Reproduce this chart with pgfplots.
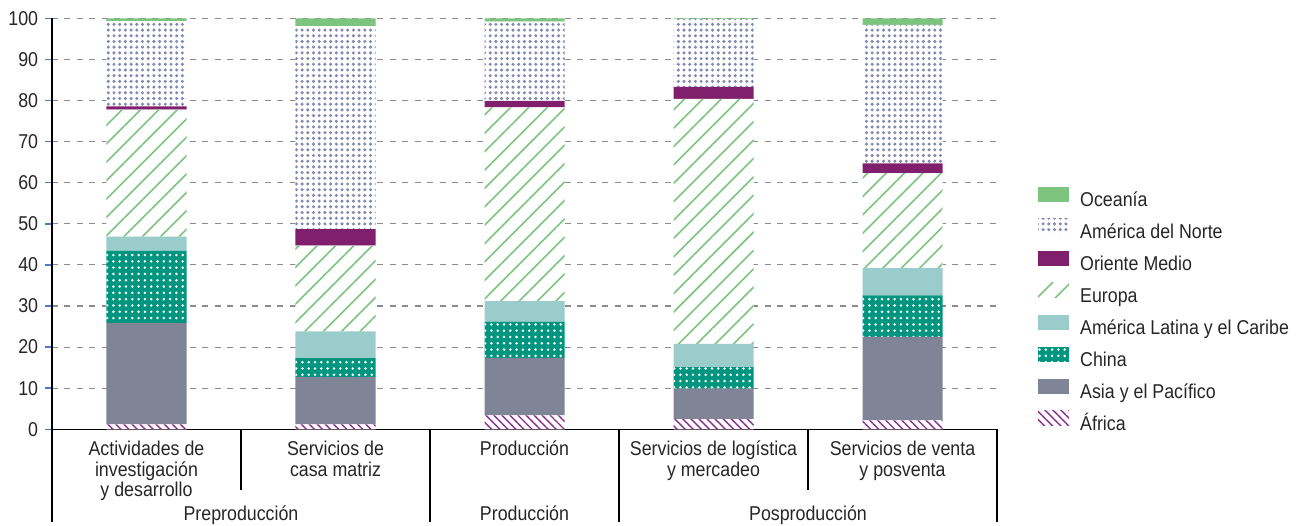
\documentclass[border=0pt]{standalone}
\usepackage{fontspec}
\setmainfont{Liberation Sans}[FakeStretch=0.89]
\usepackage{pgfplots}
\pgfplotsset{compat=1.18}
\usepackage{pgfplotstable}
\usetikzlibrary{patterns.meta}
\definecolor{oce}{HTML}{7DC47F}
\definecolor{nam}{HTML}{8189B0}
\definecolor{mid}{HTML}{80206C}
\definecolor{eur}{HTML}{7DC47F}
\definecolor{lat}{HTML}{99CCCB}
\definecolor{chi}{HTML}{00957F}
\definecolor{asi}{HTML}{7F8497}
\definecolor{afr}{HTML}{8B2A8F}
\definecolor{txt}{HTML}{262626}
\definecolor{grd}{HTML}{8C8C8C}
\definecolor{tck}{HTML}{4A7BC8}

\pgfplotstableread{
x Afr Asi Chi Lat Eur Mid Nam Oce
0 1.2 24.7 17.5 3.5 30.9 0.8 20.7 0.7
1 1.2 11.5 4.6 6.5 20.9 4.0 49.4 1.9
2 3.4 14.0 8.8 5.0 47.1 1.6 19.3 0.8
3 2.5 7.4 5.2 5.7 59.6 2.9 16.5 0.2
4 2.2 20.3 10.1 6.6 23.1 2.4 33.7 1.6
}\datatable

\pgfplotsset{myleg/.style={legend image code/.code={\fill[##1] (0bp,-0.5bp) rectangle (31bp,14.5bp);}}}

\begin{document}%
\fontsize{20bp}{20.5bp}\selectfont%
\begin{tikzpicture}[text=txt]
\useasboundingbox (-52bp,-96.7bp) rectangle (1245bp,429.3bp);
\begin{axis}[
  at={(0,0)}, anchor=south west,
  scale only axis, width=945bp, height=411bp,
  xmin=-0.5, xmax=4.5, ymin=0, ymax=100,
  ybar stacked, bar width=0.4233,
  axis x line*=bottom, axis y line*=left,
  axis line style={-, black, line width=1.3bp},
  xtick=\empty, ytick={0,10,...,100},
  tick align=outside, major tick length=7bp,
  ytick style={tck, line width=1.5bp},
  yticklabel style={/pgf/number format/assume math mode=true, text=txt},
  ymajorgrids, grid style={grd, dash pattern=on 6bp off 6.5bp, line width=1.2bp},
  clip=false,
  reverse legend,
  legend cell align=left,
  legend style={at={(axis description cs:1.0434,0.591)}, anchor=north west, draw=none, fill=none,
    inner sep=0pt, column sep=11bp, row sep=8.5bp,
    nodes={inner sep=0pt, text height=14bp, text depth=4bp, text=txt}},
]
\addplot[myleg, draw=none, fill=white, postaction={pattern={Lines[angle=-45, distance=5.7bp, line width=1.4bp]}, pattern color=afr}] table[x=x, y=Afr] {\datatable};
\addlegendentry{África}
\addplot[myleg, draw=none, fill=asi] table[x=x, y=Asi] {\datatable};
\addlegendentry{Asia y el Pacífico}
\addplot[myleg, draw=none, fill=chi, postaction={pattern={Dots[distance=6.3bp, radius=1.4bp]}, pattern color=white}] table[x=x, y=Chi] {\datatable};
\addlegendentry{China}
\addplot[myleg, draw=none, fill=lat] table[x=x, y=Lat] {\datatable};
\addlegendentry{América Latina y el Caribe}
\addplot[myleg, draw=none, fill=white, postaction={pattern={Lines[angle=45, distance=13bp, line width=1.6bp]}, pattern color=eur}] table[x=x, y=Eur] {\datatable};
\addlegendentry{Europa}
\addplot[myleg, draw=none, fill=mid] table[x=x, y=Mid] {\datatable};
\addlegendentry{Oriente Medio}
\addplot[myleg, draw=none, fill=white, postaction={pattern={Dots[distance=5.7bp, radius=1.7bp]}, pattern color=nam}] table[x=x, y=Nam] {\datatable};
\addlegendentry{América del Norte}
\addplot[myleg, draw=none, fill=oce] table[x=x, y=Oce] {\datatable};
\addlegendentry{Oceanía}

\draw[black, line width=1.3bp] (axis cs:-0.5,0) -- (axis cs:4.5,0);
\draw[black, line width=1.3bp] (axis cs:-0.5,0) -- ++(0bp,-93bp);
\draw[black, line width=1.3bp] (axis cs:1.5,0) -- ++(0bp,-93bp);
\draw[black, line width=1.3bp] (axis cs:2.5,0) -- ++(0bp,-93bp);
\draw[black, line width=1.3bp] (axis cs:4.5,0) -- ++(0bp,-93bp);
\draw[black, line width=1.3bp] (axis cs:0.5,0) -- ++(0bp,-61bp);
\draw[black, line width=1.3bp] (axis cs:3.5,0) -- ++(0bp,-61bp);

\node[anchor=north, align=center, yshift=-5bp, text=txt] at (axis cs:0,0) {Actividades de\\investigación\\y desarrollo};
\node[anchor=north, align=center, yshift=-5bp, text=txt] at (axis cs:1,0) {Servicios de\\casa matriz};
\node[anchor=north, align=center, yshift=-5bp, text=txt] at (axis cs:2,0) {Producción};
\node[anchor=north, align=center, yshift=-5bp, text=txt] at (axis cs:3,0) {Servicios de logística\\y mercadeo};
\node[anchor=north, align=center, yshift=-5bp, text=txt] at (axis cs:4,0) {Servicios de venta\\y posventa};

\node[anchor=base, yshift=-91bp, text=txt] at (axis cs:0.5,0) {Preproducción};
\node[anchor=base, yshift=-91bp, text=txt] at (axis cs:2,0) {Producción};
\node[anchor=base, yshift=-91bp, text=txt] at (axis cs:3.5,0) {Posproducción};
\end{axis}
\end{tikzpicture}%
\end{document}
